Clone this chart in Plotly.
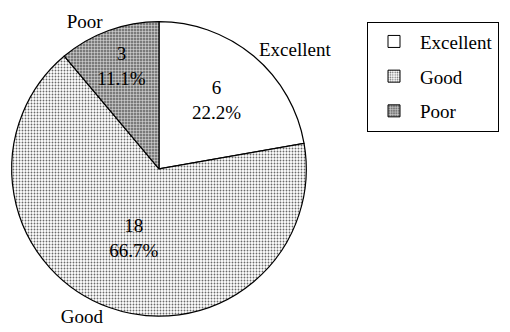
import plotly.graph_objects as go

categories = ["Excellent", "Good", "Poor"]
counts = [6, 18, 3]

FONT = "Liberation Serif, Times New Roman, serif"

fills = {
    "Excellent": dict(color="white", pattern=dict(shape="")),
    "Good": dict(color="white", pattern=dict(shape=".", fgcolor="#6a6a6a", bgcolor="#ffffff",
                                             size=3, solidity=0.3)),
    "Poor": dict(color="#8c8c8c", pattern=dict(shape="+", fgcolor="#e6e6e6", bgcolor="#7a7a7a",
                                               size=3, solidity=0.3)),
}

fig = go.Figure()

dom = dict(x=[9 / 510, 309 / 510], y=[10 / 332, 310 / 332])

# main pie with inside value / percent labels
fig.add_trace(go.Pie(
    labels=categories, values=counts, sort=False, direction="clockwise", rotation=0,
    domain=dom,
    marker=dict(
        colors=[fills[c]["color"] for c in categories],
        pattern=dict(
            shape=[fills[c]["pattern"]["shape"] for c in categories],
            fgcolor=[fills[c]["pattern"].get("fgcolor", "black") for c in categories],
            bgcolor=[fills[c]["pattern"].get("bgcolor", "white") for c in categories],
            size=[fills[c]["pattern"].get("size", 4) for c in categories],
            solidity=[fills[c]["pattern"].get("solidity", 0.3) for c in categories],
            fillmode="replace",
        ),
        line=dict(color="black", width=1.2),
    ),
    texttemplate="%{value}<br>%{percent:.1%}",
    textposition="inside", insidetextorientation="horizontal",
    textfont=dict(family=FONT, size=19, color="black"),
    insidetextfont=dict(family=FONT, size=19, color="black"),
    showlegend=False, hoverinfo="label+value+percent",
))

# transparent overlay carrying the outside category labels
fig.add_trace(go.Pie(
    labels=categories, values=counts, sort=False, direction="clockwise", rotation=0,
    domain=dom,
    marker=dict(colors=["rgba(0,0,0,0)"] * 3, line=dict(width=0)),
    textinfo="label", textposition="outside",
    textfont=dict(family=FONT, size=19, color="black"),
    outsidetextfont=dict(family=FONT, size=19, color="black"),
    showlegend=False, hoverinfo="skip",
))

# legend entries
for i, c in enumerate(categories):
    p = fills[c]["pattern"]
    fig.add_trace(go.Bar(
        x=[None], y=[None], name=c, legendgroup=c,
        marker=dict(color=fills[c]["color"],
                    pattern=dict(shape=p["shape"], fgcolor=p.get("fgcolor", "black"),
                                 bgcolor=p.get("bgcolor", "white"), size=p.get("size", 4),
                                 solidity=p.get("solidity", 0.3), fillmode="replace"),
                    line=dict(color="black", width=1)),
        showlegend=True,
    ))

fig.update_layout(
    width=510, height=332,
    margin=dict(l=0, r=0, t=0, b=0),
    paper_bgcolor="white", plot_bgcolor="white",
    xaxis=dict(visible=False), yaxis=dict(visible=False),
    uniformtext=dict(minsize=18, mode="show"),
    font=dict(family=FONT, size=19, color="black"),
    legend=dict(
        x=367 / 510, y=1 - 22 / 332, xanchor="left", yanchor="top",
        bordercolor="black", borderwidth=1, bgcolor="white",
        font=dict(family=FONT, size=19, color="black"),
        tracegroupgap=7, traceorder="grouped",
        itemwidth=42, entrywidth=95,
    ),
)

fig.write_html("out.html")
